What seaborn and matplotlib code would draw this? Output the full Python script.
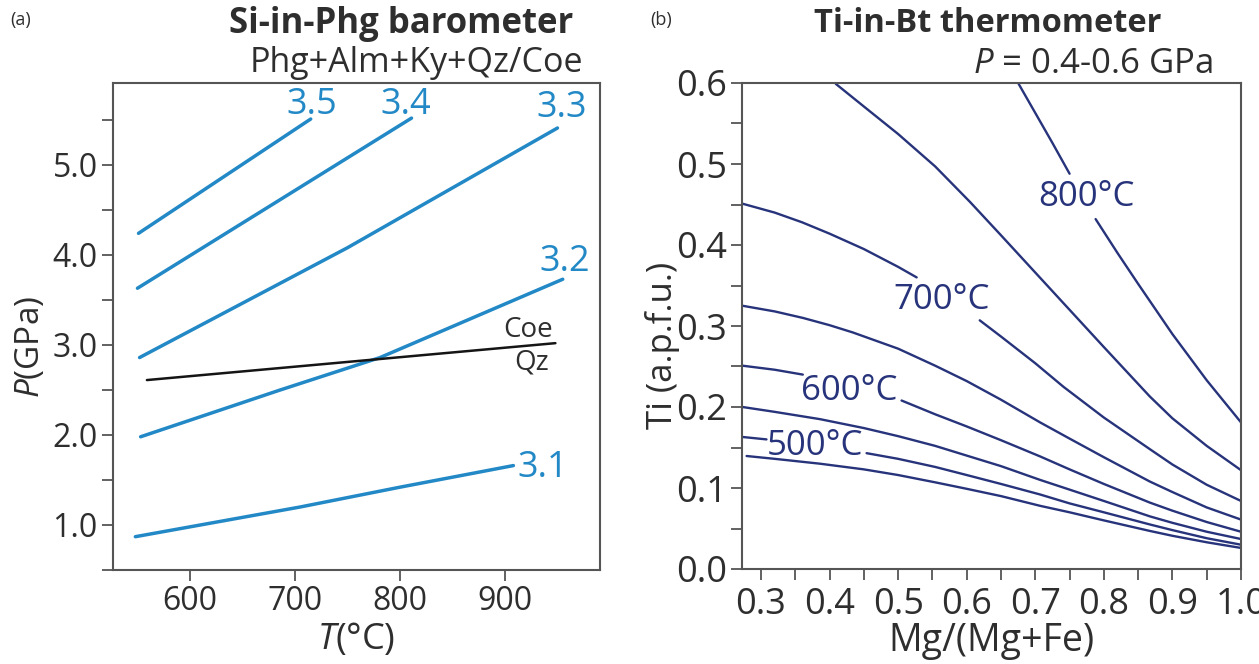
import numpy as np
import pandas as pd
import matplotlib
matplotlib.use("Agg")
import matplotlib.pyplot as plt
from matplotlib.ticker import MultipleLocator, FixedLocator
import seaborn as sns

# ---------------- Panel (a): Si-in-Phg isopleths ----------------
T_35 = [551, 715];            P_35 = [4.24, 5.51]
T_34 = [550, 811];            P_34 = [3.63, 5.52]
T_33 = [552, 750, 950];       P_33 = [2.86, 4.08, 5.41]
T_32 = [553, 686, 781, 955];  P_32 = [1.98, 2.50, 2.86, 3.73]
T_31 = [548, 705, 800, 908];  P_31 = [0.87, 1.20, 1.42, 1.66]
T_coe = [559, 948];           P_coe = [2.61, 3.02]
si_labels = ["3.5", "3.4", "3.3", "3.2", "3.1"]
si_label_T = [716, 806, 954, 957, 936]
si_label_P = [5.67, 5.67, 5.63, 3.92, 1.63]
T_ticks = [600, 700, 800, 900]
P_ticks = [1.0, 2.0, 3.0, 4.0, 5.0]

# ---------------- Panel (b): Ti-in-Bt isotherms ----------------
xmg_800a = [0.675, 0.700, 0.725, 0.750]
ti_800a = [0.600, 0.563, 0.526, 0.488]
xmg_800b = [0.788, 0.820, 0.850, 0.900, 0.950, 1.0]
ti_800b = [0.432, 0.390, 0.352, 0.290, 0.233, 0.181]
xmg_750 = [0.409, 0.450, 0.500, 0.554, 0.605, 0.650, 0.700, 0.750, 0.800, 0.867, 0.900, 0.950, 1.0]
ti_750 = [0.599, 0.571, 0.537, 0.497, 0.453, 0.412, 0.366, 0.320, 0.274, 0.213, 0.186, 0.152, 0.122]
xmg_700a = [0.273, 0.320, 0.360, 0.400, 0.450, 0.500, 0.527]
ti_700a = [0.451, 0.440, 0.428, 0.414, 0.395, 0.373, 0.360]
xmg_700b = [0.619, 0.650, 0.700, 0.741, 0.800, 0.867, 0.900, 0.950, 1.0]
ti_700b = [0.307, 0.287, 0.254, 0.225, 0.187, 0.148, 0.129, 0.104, 0.084]
xmg_650 = [0.273, 0.320, 0.361, 0.400, 0.434, 0.500, 0.554, 0.600, 0.650, 0.707, 0.750, 0.800, 0.867, 0.900, 0.950, 1.0]
ti_650 = [0.325, 0.318, 0.310, 0.301, 0.292, 0.272, 0.251, 0.232, 0.209, 0.181, 0.161, 0.138, 0.108, 0.095, 0.076, 0.061]
xmg_600a = [0.273, 0.320, 0.361]
ti_600a = [0.251, 0.246, 0.240]
xmg_600b = [0.505, 0.554, 0.600, 0.650, 0.707, 0.750, 0.800, 0.867, 0.900, 0.950, 1.0]
ti_600b = [0.208, 0.191, 0.176, 0.159, 0.139, 0.123, 0.105, 0.082, 0.072, 0.058, 0.046]
xmg_550 = [0.273, 0.320, 0.386, 0.450, 0.500, 0.554, 0.600, 0.650, 0.707, 0.750, 0.800, 0.867, 0.900, 0.950, 1.0]
ti_550 = [0.200, 0.194, 0.185, 0.174, 0.164, 0.152, 0.140, 0.127, 0.110, 0.098, 0.084, 0.065, 0.057, 0.046, 0.037]
xmg_500a = [0.273, 0.308]
ti_500a = [0.163, 0.160]
xmg_500b = [0.454, 0.500, 0.554, 0.600, 0.650, 0.707, 0.750, 0.800, 0.867, 0.900, 0.950, 1.0]
ti_500b = [0.143, 0.136, 0.126, 0.116, 0.105, 0.092, 0.081, 0.070, 0.055, 0.048, 0.038, 0.030]
xmg_450 = [0.279, 0.320, 0.386, 0.450, 0.500, 0.554, 0.600, 0.650, 0.707, 0.750, 0.800, 0.867, 0.900, 0.950, 1.0]
ti_450 = [0.1395, 0.136, 0.130, 0.123, 0.116, 0.107, 0.099, 0.090, 0.078, 0.070, 0.060, 0.047, 0.041, 0.033, 0.026]
temp_labels = ["800°C", "700°C", "600°C", "500°C"]
temp_label_x = [0.774, 0.564, 0.429, 0.378]
temp_label_y = [0.459, 0.332, 0.220, 0.152]
xmg_ticks = [0.3, 0.4, 0.5, 0.6, 0.7, 0.8, 0.9, 1.0]
ti_ticks = [0.0, 0.1, 0.2, 0.3, 0.4, 0.5, 0.6]

# ---------------- style ----------------
sns.set_theme(style="ticks")
FONT = "Open Sans"
plt.rcParams["font.family"] = [FONT, "DejaVu Sans"]
plt.rcParams["mathtext.fontset"] = "custom"
plt.rcParams["mathtext.it"] = FONT + ":italic"
plt.rcParams["mathtext.rm"] = FONT

BLUE = "#2389c6"
NAVY = "#27337a"
TXT = "#2e2e2e"
SPINE = "#555555"

fig = plt.figure(figsize=(12.59, 6.64), dpi=100)
axA = fig.add_axes([113 / 1259, (664 - 570) / 664, 487 / 1259, 487 / 664])
axB = fig.add_axes([742 / 1259, (664 - 569) / 664, 499 / 1259, 486 / 664])

# panel (a)
segsA = []
for name, T, P in [("3.5", T_35, P_35), ("3.4", T_34, P_34), ("3.3", T_33, P_33),
                   ("3.2", T_32, P_32), ("3.1", T_31, P_31)]:
    segsA.append(pd.DataFrame({"T": T, "P": P, "seg": name}))
dfA = pd.concat(segsA, ignore_index=True)
sns.lineplot(data=dfA, x="T", y="P", units="seg", estimator=None, sort=False,
             color=BLUE, lw=2.5, ax=axA)
dfC = pd.DataFrame({"T": T_coe, "P": P_coe})
sns.lineplot(data=dfC, x="T", y="P", estimator=None, sort=False,
             color="#151515", lw=1.8, ax=axA)
for lab, t, p in zip(si_labels, si_label_T, si_label_P):
    axA.text(t, p, lab, color=BLUE, fontsize=26, ha="center", va="center")
axA.text(922, 3.17, "Coe", color=TXT, fontsize=20, ha="center", va="center")
axA.text(925, 2.80, "Qz", color=TXT, fontsize=20, ha="center", va="center")

axA.set_xlim(526.7, 990.5)
axA.set_ylim(0.5, 5.91)
axA.xaxis.set_major_locator(FixedLocator(T_ticks))
axA.yaxis.set_major_locator(FixedLocator(P_ticks))
axA.yaxis.set_minor_locator(MultipleLocator(0.5))
axA.set_yticklabels([f"{v:.1f}" for v in P_ticks])
axA.set_xticklabels([str(v) for v in T_ticks])
axA.set_xlabel(r"$\mathit{T}$(°C)", fontsize=26, color=TXT)
axA.set_ylabel(r"$\mathit{P}$(GPa)", fontsize=24, color=TXT)
axA.xaxis.set_label_coords(0.5, -0.105)
axA.yaxis.set_label_coords(-0.135, 0.458)

# panel (b)
segsB = []
curves = [("800a", xmg_800a, ti_800a), ("800b", xmg_800b, ti_800b),
          ("750", xmg_750, ti_750), ("700a", xmg_700a, ti_700a),
          ("700b", xmg_700b, ti_700b), ("650", xmg_650, ti_650),
          ("600a", xmg_600a, ti_600a), ("600b", xmg_600b, ti_600b),
          ("550", xmg_550, ti_550), ("500a", xmg_500a, ti_500a),
          ("500b", xmg_500b, ti_500b), ("450", xmg_450, ti_450)]
for name, x, y in curves:
    segsB.append(pd.DataFrame({"x": x, "y": y, "seg": name}))
dfB = pd.concat(segsB, ignore_index=True)
sns.lineplot(data=dfB, x="x", y="y", units="seg", estimator=None, sort=False,
             color=NAVY, lw=1.7, ax=axB)
for lab, x, y in zip(temp_labels, temp_label_x, temp_label_y):
    axB.text(x, y, lab, color=NAVY, fontsize=25, ha="center", va="center")

axB.set_xlim(0.2723, 1.0)
axB.set_ylim(0.0, 0.6)
axB.xaxis.set_major_locator(FixedLocator(xmg_ticks))
axB.xaxis.set_minor_locator(MultipleLocator(0.05))
axB.yaxis.set_major_locator(FixedLocator(ti_ticks))
axB.yaxis.set_minor_locator(MultipleLocator(0.05))
axB.set_xticklabels([f"{v:.1f}" for v in xmg_ticks])
axB.set_yticklabels([f"{v:.1f}" for v in ti_ticks])
axB.set_xlabel("Mg/(Mg+Fe)", fontsize=27, color=TXT)
axB.set_ylabel("Ti (a.p.f.u.)", fontsize=25, color=TXT)
axB.xaxis.set_label_coords(0.5, -0.11)
axB.yaxis.set_label_coords(-0.124, 0.461)

for ax, fs in ((axA, 23), (axB, 26)):
    for s in ax.spines.values():
        s.set_color(SPINE)
        s.set_linewidth(1.5)
    ax.tick_params(which="both", direction="out", length=8, width=1.3,
                   color=SPINE, labelsize=fs, labelcolor=TXT, pad=3,
                   top=False, right=False)
axB.tick_params(axis="x", which="both", pad=5)

# titles and panel tags
fig.text(401 / 1259, 1 - 24 / 664, "Si-in-Phg barometer", fontsize=25,
         fontweight="bold", color=TXT, ha="center", va="center")
fig.text(583 / 1259, 1 - 63 / 664, "Phg+Alm+Ky+Qz/Coe", fontsize=24.5,
         color=TXT, ha="right", va="center")
fig.text(10 / 1259, 1 - 20 / 664, "(a)", fontsize=13, color=TXT,
         ha="left", va="center")
fig.text(988 / 1259, 1 - 24 / 664, "Ti-in-Bt thermometer", fontsize=23.5,
         fontweight="bold", color=TXT, ha="center", va="center")
fig.text(1213 / 1259, 1 - 64 / 664, r"$\mathit{P}$ = 0.4-0.6 GPa", fontsize=25,
         color=TXT, ha="right", va="center")
fig.text(650 / 1259, 1 - 20 / 664, "(b)", fontsize=13, color=TXT,
         ha="left", va="center")

fig.savefig("out.png", dpi=100, facecolor="white")
